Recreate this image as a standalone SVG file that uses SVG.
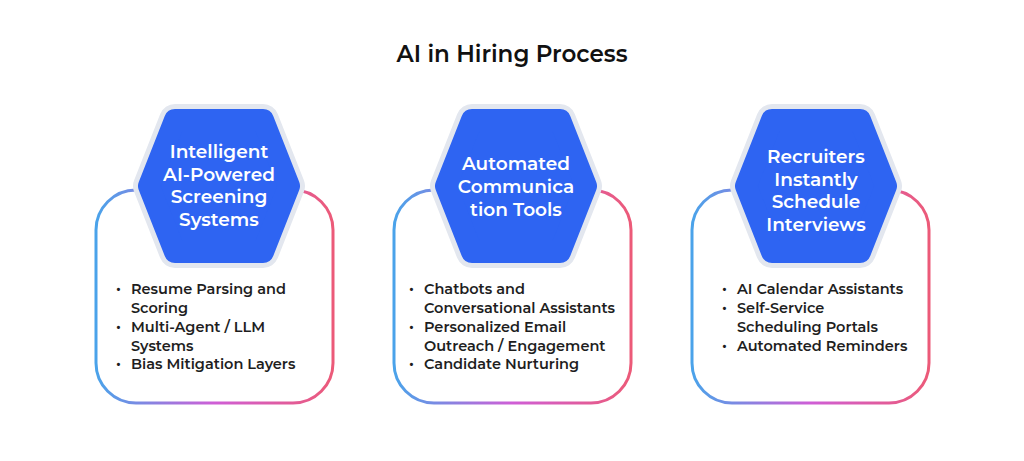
<svg xmlns="http://www.w3.org/2000/svg" width="1024" height="461" viewBox="0 0 1024 461">
<defs>
<linearGradient id="g" x1="0" y1="0" x2="1" y2="0">
<stop offset="0" stop-color="#4aa3ea"/><stop offset="0.5" stop-color="#cf5ed6"/><stop offset="1" stop-color="#ec5a78"/>
</linearGradient>
<polygon id="hex" points="-44,-66 44,-66 70,0 44,66 -44,66 -70,0"/>
</defs>
<style>
.card{fill:#fff;stroke:url(#g);stroke-width:3}
.hexo{fill:#e3e7ef;stroke:#e3e7ef;stroke-width:32;stroke-linejoin:round}
.hexi{fill:#2e64f2;stroke:#2e64f2;stroke-width:22;stroke-linejoin:round}
.ht{font-family:Montserrat,"Open Sans",sans-serif;font-size:18.5px;font-weight:600;fill:#fff;text-anchor:middle}
.bt{font-family:Montserrat,"Open Sans",sans-serif;font-size:14.5px;font-weight:600;fill:#1e1e1e}
.title{font-family:Montserrat,"Open Sans",sans-serif;font-size:23px;font-weight:600;fill:#111;text-anchor:middle}
</style>
<rect width="1024" height="461" fill="#fff"/>
<text class="title" x="512" y="62">AI in Hiring Process</text>
<g id="connectors"/>
<g id="n1">
<rect class="card" x="96" y="190" width="237" height="213" rx="40"/>
<use href="#hex" class="hexo" x="219" y="186"/>
<use href="#hex" class="hexi" x="219" y="186"/>
<text class="ht"><tspan x="219" y="158">Intelligent</tspan><tspan x="219" y="181">AI-Powered</tspan><tspan x="219" y="203">Screening</tspan><tspan x="219" y="226">Systems</tspan></text>
<text class="bt"><tspan x="116" y="294">•</tspan><tspan x="131" y="294">Resume Parsing and</tspan><tspan x="131" y="313">Scoring</tspan><tspan x="116" y="332">•</tspan><tspan x="131" y="332">Multi-Agent / LLM</tspan><tspan x="131" y="351">Systems</tspan><tspan x="116" y="369">•</tspan><tspan x="131" y="369">Bias Mitigation Layers</tspan></text>
</g>
<g id="n2">
<rect class="card" x="394" y="190" width="237" height="213" rx="40"/>
<use href="#hex" class="hexo" x="516" y="186"/>
<use href="#hex" class="hexi" x="516" y="186"/>
<text class="ht"><tspan x="516" y="170">Automated</tspan><tspan x="516" y="193">Communica</tspan><tspan x="516" y="216">tion Tools</tspan></text>
<text class="bt"><tspan x="409" y="294">•</tspan><tspan x="424" y="294">Chatbots and</tspan><tspan x="424" y="313">Conversational Assistants</tspan><tspan x="409" y="332">•</tspan><tspan x="424" y="332">Personalized Email</tspan><tspan x="424" y="351">Outreach / Engagement</tspan><tspan x="409" y="369">•</tspan><tspan x="424" y="369">Candidate Nurturing</tspan></text>
</g>
<g id="n3">
<rect class="card" x="692" y="190" width="237" height="213" rx="40"/>
<use href="#hex" class="hexo" x="816" y="186"/>
<use href="#hex" class="hexi" x="816" y="186"/>
<text class="ht"><tspan x="816" y="163">Recruiters</tspan><tspan x="816" y="186">Instantly</tspan><tspan x="816" y="208">Schedule</tspan><tspan x="816" y="231">Interviews</tspan></text>
<text class="bt"><tspan x="722" y="294">•</tspan><tspan x="737" y="294">AI Calendar Assistants</tspan><tspan x="722" y="313">•</tspan><tspan x="737" y="313">Self-Service</tspan><tspan x="737" y="332">Scheduling Portals</tspan><tspan x="722" y="351">•</tspan><tspan x="737" y="351">Automated Reminders</tspan></text>
</g>
</svg>
